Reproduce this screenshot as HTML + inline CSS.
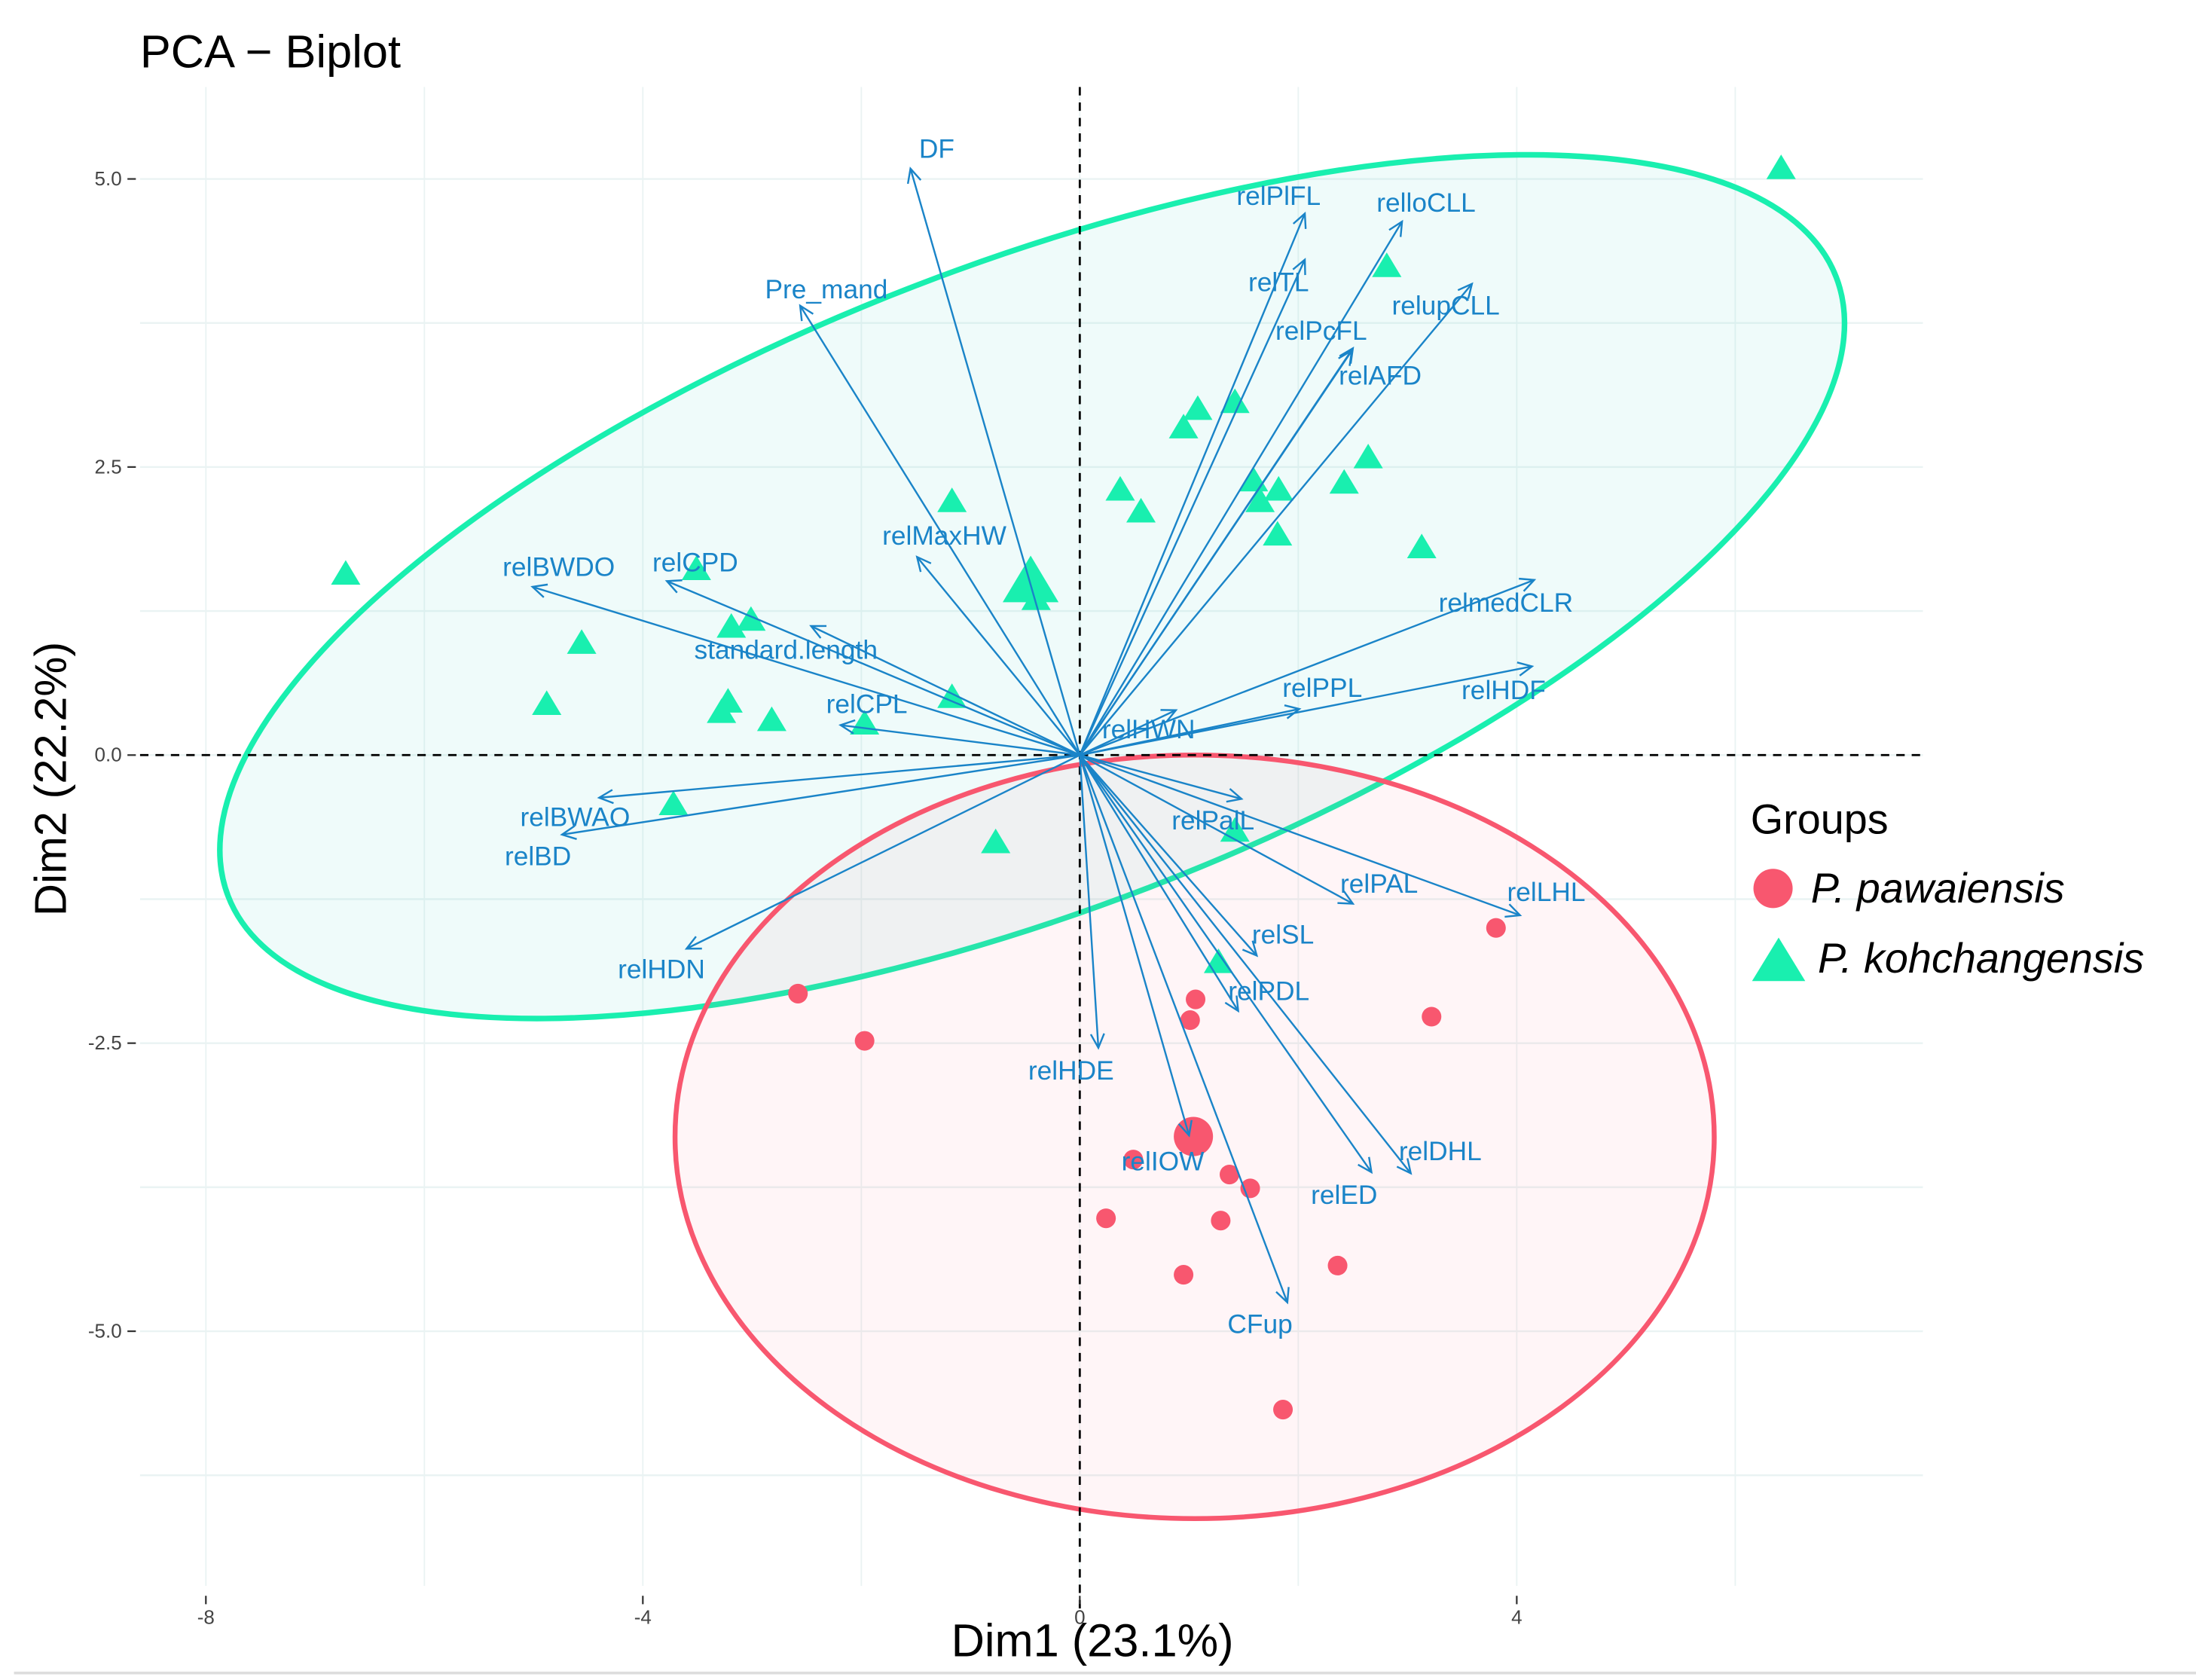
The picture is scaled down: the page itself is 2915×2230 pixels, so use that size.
<!DOCTYPE html>
<html><head><meta charset="utf-8"><style>
html,body{margin:0;padding:0;background:#fff;}
svg{display:block;font-family:"Liberation Sans",Arial,sans-serif;}
</style></head><body>
<svg id="chart" width="2915" height="2230" viewBox="0 0 1568 1197" preserveAspectRatio="none" xmlns="http://www.w3.org/2000/svg">
<g id="grid"></g>
<g id="ellipses"></g>
<g id="refs"></g>
<g id="points"></g>
<g id="arrows"></g>
<g id="axes"></g>
<text x="100" y="48" font-size="33" fill="#000">PCA − Biplot</text>
<text x="780" y="1180" font-size="33" text-anchor="middle" fill="#000">Dim1 (23.1%)</text>
<text transform="translate(47,555) rotate(-90)" font-size="32" text-anchor="middle" fill="#000">Dim2 (22.2%)</text>
<g>
<text x="1250" y="594" font-size="30" fill="#000">Groups</text>
<circle cx="1266" cy="633" r="14" fill="#f8576f"/>
<text x="1293" y="643" font-size="30" font-style="italic" fill="#000">P. pawaiensis</text>
<polygon points="1270,668 1289,699 1251,699" fill="#19efaf"/>
<text x="1298" y="693" font-size="30" font-style="italic" fill="#000">P. kohchangensis</text>
</g>
<line x1="10" y1="1192" x2="1568" y2="1192" stroke="#ddd" stroke-width="2"/>
</svg>
<script>
const kohX=[6.42,2.81,1.08,1.42,0.95,-1.17,0.37,0.56,1.59,1.82,1.65,1.81,2.64,2.42,3.13,-6.72,-3.51,-0.40,-3.19,-3.01,-4.56,-4.88,-3.22,-3.28,-2.82,-1.97,-1.17,-3.72,-0.77,1.42,1.27];
const kohY=[5.09,4.24,3.00,3.06,2.84,2.20,2.30,2.11,2.38,2.30,2.20,1.91,2.58,2.36,1.80,1.57,1.61,1.35,1.11,1.17,0.97,0.44,0.46,0.37,0.30,0.27,0.50,-0.43,-0.76,-0.66,-1.80];
const kohMean=[-0.45,1.50];
const pawX=[-2.58,-1.97,1.06,1.01,3.81,3.22,0.49,1.37,1.56,0.24,1.29,0.95,2.36,1.86];
const pawY=[-2.07,-2.48,-2.12,-2.30,-1.50,-2.27,-3.51,-3.64,-3.76,-4.02,-4.04,-4.51,-4.43,-5.68];
const pawMean=[1.04,-3.31];
const varNames=["DF","Pre_mand","relPlFL","relloCLL","relTL","relupCLL","relPcFL","relAFD","relMaxHW","relBWDO","relCPD","standard.length","relCPL","relmedCLR","relPPL","relHDF","relHWN","relBWAO","relBD","relHDN","relPalL","relPAL","relLHL","relSL","relPDL","relHDE","relIOW","relDHL","relED","CFup"];
const varX=[-1.55,-2.56,2.06,2.95,2.06,3.59,2.49,2.50,-1.49,-5.01,-3.78,-2.46,-2.19,4.16,2.01,4.14,0.88,-4.40,-4.74,-3.60,1.48,2.50,4.03,1.62,1.45,0.17,1.00,3.03,2.67,1.90];
const varY=[5.09,3.90,4.70,4.63,4.30,4.09,3.51,3.53,1.72,1.46,1.51,1.12,0.26,1.52,0.40,0.77,0.39,-0.37,-0.69,-1.68,-0.38,-1.29,-1.39,-1.74,-2.22,-2.54,-3.30,-3.63,-3.62,-4.75];
const labX=[-1.31,-2.32,1.82,3.17,1.82,3.35,2.21,2.75,-1.24,-4.77,-3.52,-2.69,-1.95,3.90,2.22,3.88,0.63,-4.62,-4.96,-3.83,1.22,2.74,4.27,1.86,1.73,-0.08,0.76,3.30,2.42,1.65];
const labY=[5.26,4.04,4.85,4.79,4.10,3.90,3.68,3.29,1.90,1.63,1.67,0.91,0.44,1.32,0.58,0.56,0.22,-0.54,-0.88,-1.86,-0.57,-1.12,-1.19,-1.56,-2.05,-2.74,-3.53,-3.44,-3.82,-4.94];
const xTicks=[-8,-4,0,4];
const xMinor=[-6,-2,2,6];
const yTicks=[5.0,2.5,0.0,-2.5,-5.0];
const yMinor=[3.75,1.25,-1.25,-3.75,-6.25];
const xTickLabels=["-8","-4","0","4"];
const yTickLabels=["5.0","2.5","0.0","-2.5","-5.0"];

const NS="http://www.w3.org/2000/svg";
const sx=v=>771+78.0*v, sy=v=>538-82.1*v;
const PL=100,PR=1373,PT=62,PB=1130;
function mk(tag,attrs,parent){const e=document.createElementNS(NS,tag);for(const k in attrs)e.setAttribute(k,attrs[k]);parent.appendChild(e);return e;}
const grid=document.getElementById('grid');
xTicks.concat(xMinor).forEach(v=>{const l=mk('line',{x1:sx(v),x2:sx(v),y1:PT,y2:PB,stroke:'#eaf3f3','stroke-width':1},grid);

});
yTicks.concat(yMinor).forEach(v=>{const l=mk('line',{x1:PL,x2:PR,y1:sy(v),y2:sy(v),stroke:'#eaf3f3','stroke-width':1.3},grid);

});

const ell=document.getElementById('ellipses');
const ge=mk('ellipse',{cx:737,cy:418,rx:615,ry:230,transform:'rotate(-21 737 418)',fill:'#5fd5d0','fill-opacity':0.1,stroke:'#19efaf','stroke-width':4},ell);


const pe=mk('ellipse',{cx:853,cy:810,rx:371,ry:272,fill:'#f8576f','fill-opacity':0.06,stroke:'#f8576f','stroke-width':3.5},ell);



const refs=document.getElementById('refs');
const hl=mk('line',{x1:PL,x2:PR,y1:sy(0),y2:sy(0),stroke:'#000','stroke-width':1.5,'stroke-dasharray':'6,5'},refs);


const vl=mk('line',{x1:sx(0),x2:sx(0),y1:PT,y2:1150,stroke:'#000','stroke-width':1.5,'stroke-dasharray':'6,5'},refs);



const pts=document.getElementById('points');
function tri(x,y,s){return `${x},${y-s} ${x+s*1.05},${y+s*0.75} ${x-s*1.05},${y+s*0.75}`;}
kohX.forEach((v,i)=>{const p=mk('polygon',{points:tri(sx(v),sy(kohY[i]),10),fill:'#19efaf'},pts);

});
const km=mk('polygon',{points:tri(sx(kohMean[0]),sy(kohMean[1]),19),fill:'#19efaf'},pts);


pawX.forEach((v,i)=>{const c=mk('circle',{cx:sx(v),cy:sy(pawY[i]),r:7,fill:'#f8576f'},pts);

});
const pm=mk('circle',{cx:sx(pawMean[0]),cy:sy(pawMean[1]),r:14,fill:'#f8576f'},pts);



const arr=document.getElementById('arrows');
const ox=sx(0),oy=sy(0);
varNames.forEach((n,i)=>{
 const ex=sx(varX[i]),ey=sy(varY[i]);
 const g=mk('g',{},arr);
 
 
 mk('line',{x1:ox,y1:oy,x2:ex,y2:ey,stroke:'#1a84c8','stroke-width':1.3},g);
 const a=Math.atan2(ey-oy,ex-ox),L=11,w=0.45;
 const p1=[ex-L*Math.cos(a-w),ey-L*Math.sin(a-w)],p2=[ex-L*Math.cos(a+w),ey-L*Math.sin(a+w)];
 mk('polyline',{points:`${p1} ${ex},${ey} ${p2}`,fill:'none',stroke:'#1a84c8','stroke-width':1.3},g);
 const t=mk('text',{x:sx(labX[i]),y:sy(labY[i]),'font-size':19,'text-anchor':'middle','dominant-baseline':'central',fill:'#1a84c8'},arr);
 t.textContent=n;
 
 
});

const axes=document.getElementById('axes');
xTicks.forEach((v,i)=>{
 mk('line',{x1:sx(v),x2:sx(v),y1:1137,y2:1143,stroke:'#333','stroke-width':1.2},axes);
 const t=mk('text',{x:sx(v),y:1157,'font-size':14,'text-anchor':'middle',fill:'#444'},axes);
 t.textContent=xTickLabels[i];
 
 
});
yTicks.forEach((v,i)=>{
 mk('line',{x1:91,x2:97,y1:sy(v),y2:sy(v),stroke:'#333','stroke-width':1.2},axes);
 const t=mk('text',{x:87,y:sy(v)+4.5,'font-size':14,'text-anchor':'end',fill:'#444'},axes);
 t.textContent=yTickLabels[i];
 
 
});
</script>
</body></html>
